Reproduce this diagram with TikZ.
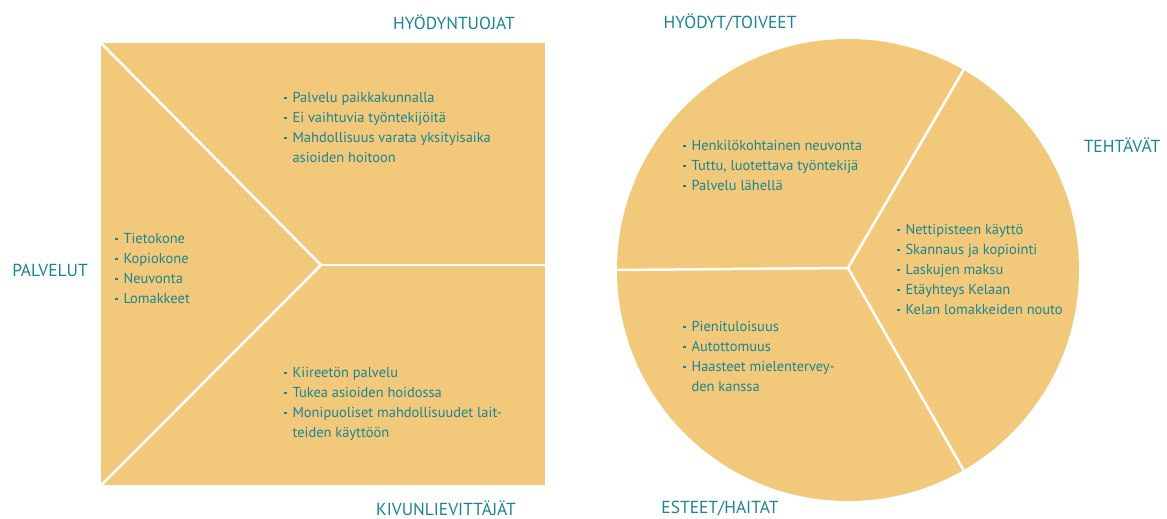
\documentclass[tikz,border=0pt]{standalone}
\usepackage{fontspec}
\setmainfont{PT Sans}
\definecolor{fillc}{HTML}{F2C97B}
\definecolor{tealc}{HTML}{1A8590}
\newcommand{\bl}{\raisebox{0.26em}{\rule{2.4pt}{2.4pt}}}
\newenvironment{blist}{\begin{tabular}[t]{@{}l@{\hspace{6pt}}l@{}}}{\end{tabular}}
\tikzset{
  ttl/.style={text=tealc, font=\fontsize{17.5}{20}\selectfont, inner sep=0},
  lst/.style={text=tealc, font=\fontsize{14.5}{20}\selectfont, inner sep=0, anchor=base west},
  sepline/.style={draw=white, line width=2.5bp},
  shape fill/.style={fill=fillc, inner sep=0}
}
\begin{document}
\begin{tikzpicture}[x=1bp,y=-1bp]
\useasboundingbox (0,0) rectangle (1167,519);
% square
\node[shape fill, minimum width=444bp, minimum height=442bp, anchor=north west] (sq) at (101,43) {};
\coordinate (sc) at (321,265);
\draw[sepline] (sq.north west) -- (sc) -- (sq.south west);
\draw[sepline] (sc) -- (sq.east |- sc);
% circle
\node[shape fill, circle, minimum size=462bp] (ci) at (848,270) {};
\coordinate (cc) at (848,268);
\draw[sepline] (cc) -- (ci.60);
\draw[sepline] (cc) -- (ci.-60);
\draw[sepline] (cc) -- (ci.180);
% titles
\node[ttl] (t1) at (454,22) {HYÖDYNTUOJAT};
\node[ttl] (t2) at (50,270) {PALVELUT};
\node[ttl] (t3) at (446,508) {KIVUNLIEVITTÄJÄT};
\node[ttl] (t4) at (730,22) {HYÖDYT/TOIVEET};
\node[ttl] (t5) at (1122,145) {TEHTÄVÄT};
\node[ttl] (t6) at (720,509) {ESTEET/HAITAT};
% lists
\node[lst] (l1) at (284,103) {\begin{blist}\bl & Palvelu paikkakunnalla\\ \bl & Ei vaihtuvia työntekijöitä\\ \bl & Mahdollisuus varata yksityisaika\\ & asioiden hoitoon\end{blist}};
\node[lst] (l2) at (115,244) {\begin{blist}\bl & Tietokone\\ \bl & Kopiokone\\ \bl & Neuvonta\\ \bl & Lomakkeet\end{blist}};
\node[lst] (l3) at (284,378) {\begin{blist}\bl & Kiireetön palvelu\\ \bl & Tukea asioiden hoidossa\\ \bl & Monipuoliset mahdollisuudet lait-\\ & teiden käyttöön\end{blist}};
\node[lst] (c1) at (683,151) {\begin{blist}\bl & Henkilökohtainen neuvonta\\ \bl & Tuttu, luotettava työntekijä\\ \bl & Palvelu lähellä\end{blist}};
\node[lst] (c2) at (897,235) {\begin{blist}\bl & Nettipisteen käyttö\\ \bl & Skannaus ja kopiointi\\ \bl & Laskujen maksu\\ \bl & Etäyhteys Kelaan\\ \bl & Kelan lomakkeiden nouto\end{blist}};
\node[lst] (c3) at (683,332) {\begin{blist}\bl & Pienituloisuus\\ \bl & Autottomuus\\ \bl & Haasteet mielentervey-\\ & den kanssa\end{blist}};
\end{tikzpicture}
\end{document}
